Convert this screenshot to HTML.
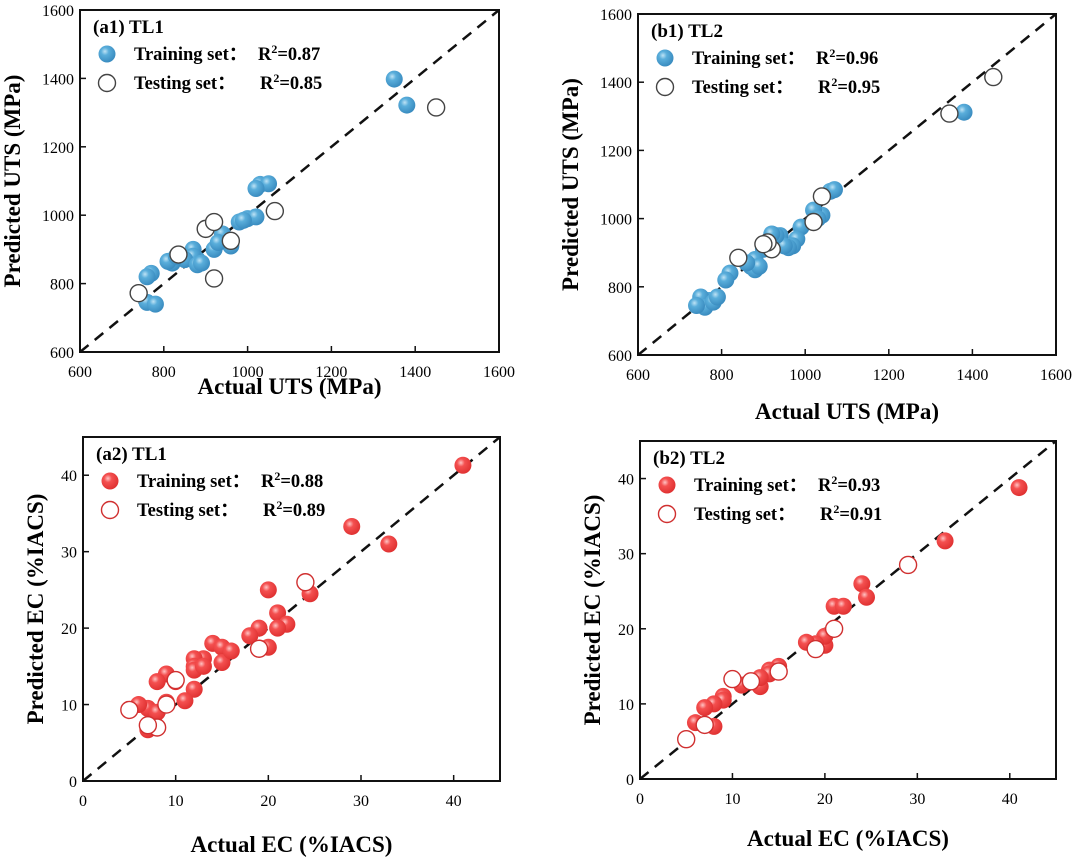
<!DOCTYPE html>
<html><head><meta charset="utf-8"><style>
body{margin:0;background:#fff;}
svg{display:block;font-family:"Liberation Serif",serif;}
</style></head><body>
<svg id="fig" width="1080" height="861" viewBox="0 0 1080 861" xmlns="http://www.w3.org/2000/svg">
<defs>
<radialGradient id="gb" cx="0.38" cy="0.35" r="0.65"><stop offset="0" stop-color="#bfe3f5"/><stop offset="0.35" stop-color="#5aaedb"/><stop offset="1" stop-color="#3a8cc0"/></radialGradient>
<radialGradient id="gr" cx="0.38" cy="0.35" r="0.65"><stop offset="0" stop-color="#ffc4c4"/><stop offset="0.35" stop-color="#f45050"/><stop offset="1" stop-color="#e03232"/></radialGradient>
</defs>
</svg>
<script>
// ---- data ----
const a1TrainX=[1350,1380,1030,1050,1020,1000,1020,980,990,960,940,920,930,870,880,870,850,820,810,830,770,760,760,780,880,890];
const a1TrainY=[1398,1322,1090,1092,1078,990,995,980,985,910,945,900,920,900,870,880,870,860,865,880,830,820,745,740,855,860];
const a1TestX=[1450,1065,900,920,960,920,835,740];
const a1TestY=[1315,1012,960,980,925,815,885,772];
const b1TrainX=[1380,1060,1070,1040,1020,1030,990,980,970,960,940,950,930,920,900,880,870,880,890,860,820,810,770,750,760,740,780,790];
const b1TrainY=[1312,1080,1085,1010,1025,1000,975,940,920,915,950,920,950,955,910,880,860,850,860,870,840,820,760,770,740,745,755,770];
const b1TestX=[1345,1450,1040,1020,920,910,900,840];
const b1TestY=[1308,1415,1065,990,910,930,925,885];
const a2TrainX=[41,29,33,20,24.5,21,22,21,19,18,20,14,15,15,13,12,12,12,13,12,11,9,8,7,6,7,8,9,10,16];
const a2TrainY=[41.3,33.3,31,25,24.5,22,20.5,20,20,19,17.5,18,17.5,15.5,16,16,15,14.5,15,12,10.5,14,13,9.5,10,6.7,9,10.3,13,17];
const a2TestX=[24,19,10,5,8,9,7];
const a2TestY=[26,17.3,13.2,9.3,7,10,7.3];
const b2TrainX=[41,33,24,24.5,21,22,20,20,19,18,15,14,14,13,12,11,9,9,8,8,7,6,13];
const b2TrainY=[38.8,31.7,26,24.2,23,23,17.8,19,18,18.2,15,14.5,14,12.3,13,12.5,11,10.5,10,7,9.5,7.5,13.5];
const b2TestX=[29,21,19,15,12,10,7,5];
const b2TestY=[28.5,20,17.3,14.3,13,13.3,7.2,5.3];
const utsTicks=[600,800,1000,1200,1400,1600];
const ecXTicks=[0,10,20,30,40];
const ecYTicks=[0,10,20,30,40];

const NS="http://www.w3.org/2000/svg";
const svg=document.getElementById('fig');
function mk(tag,attrs,parent){const e=document.createElementNS(NS,tag);for(const k in attrs)e.setAttribute(k,attrs[k]);(parent||svg).appendChild(e);return e;}

function panel(p){
  const g=mk('g',{});
  
  
  const sx=v=>p.L+(v-p.xmin)/(p.xmax-p.xmin)*(p.R-p.L);
  const sy=v=>p.B-(v-p.ymin)/(p.ymax-p.ymin)*(p.B-p.T);
  const lo=Math.max(p.xmin,p.ymin),hi=Math.min(p.xmax,p.ymax);
  const d=mk('line',{x1:sx(lo),y1:sy(lo),x2:sx(hi),y2:sy(hi),stroke:'#111','stroke-width':2.5,'stroke-dasharray':'11,8'},g);
  
  
  const fill=p.color==='b'?'url(#gb)':'url(#gr)';
  const ostroke=p.color==='b'?'#444':'#d03030';
  for(let i=0;i<p.trX.length;i++){
    const c=mk('circle',{cx:sx(p.trX[i]),cy:sy(p.trY[i]),r:8.5,fill:fill},g);
    
    
  }
  for(let i=0;i<p.teX.length;i++){
    const c=mk('circle',{cx:sx(p.teX[i]),cy:sy(p.teY[i]),r:8.5,fill:'#fff',stroke:ostroke,'stroke-width':1.4},g);
    
    
  }
  const f=mk('rect',{x:p.L,y:p.T,width:p.R-p.L,height:p.B-p.T,fill:'none',stroke:'#111','stroke-width':2},g);
  
  
  p.xt.forEach(v=>{
    const x=sx(v);
    mk('line',{x1:x,y1:p.B,x2:x,y2:p.B-6,stroke:'#111','stroke-width':1.5},g);
    const t=mk('text',{x:x,y:p.B+25,'text-anchor':'middle','font-size':16},g);
    t.textContent=v;
    
    
  });
  p.yt.forEach(v=>{
    const y=sy(v);
    mk('line',{x1:p.L,y1:y,x2:p.L+6,y2:y,stroke:'#111','stroke-width':1.5},g);
    const t=mk('text',{x:p.L-6,y:y+6,'text-anchor':'end','font-size':16},g);
    t.textContent=v;
    
    
  });
  const xt=mk('text',{x:(p.L+p.R)/2,y:p.B+42+(p.xTitleOff||0),'text-anchor':'middle','font-size':23,'font-weight':'bold'},g);
  xt.textContent=p.xtitle;
  
  
  const yx=p.L-p.ytOff, yc=(p.T+p.B)/2;
  const yt=mk('text',{x:yx,y:yc,'text-anchor':'middle','font-size':23,'font-weight':'bold',transform:`rotate(-90 ${yx} ${yc})`},g);
  yt.textContent=p.ytitle;
  
  
  const lb=mk('text',{x:p.L+13,y:p.T+23,'font-size':19,'font-weight':'bold'},g);
  lb.textContent=p.label;
  
  
  [[p.r2tr,'Training set：',true],[p.r2te,'Testing set：',false]].forEach((row,k)=>{
    const y=p.T+50+k*29;
    const c=mk('circle',{cx:p.L+27,cy:y-6,r:8.5,fill:row[2]?fill:'#fff',stroke:row[2]?'none':ostroke,'stroke-width':1.4},g);
    
    
    const t=mk('text',{x:p.L+54,y:y,'font-size':18.5,'font-weight':'bold'},g);
    t.textContent=row[1];
    
    
    const r=mk('text',{x:p.L+(row[2]?178:180),y:y,'font-size':18.5,'font-weight':'bold'},g);
    r.innerHTML='R<tspan dy="-7" font-size="12">2</tspan><tspan dy="7">='+row[0]+'</tspan>';
    
    
  });
}

panel({id:'a1',L:80,R:499,T:10,B:352,xmin:600,xmax:1600,ymin:600,ymax:1600,xt:utsTicks,yt:utsTicks,
  trX:a1TrainX,trY:a1TrainY,teX:a1TestX,teY:a1TestY,color:'b',label:'(a1) TL1',r2tr:'0.87',r2te:'0.85',
  xtitle:'Actual UTS (MPa)',ytitle:'Predicted UTS (MPa)',ytOff:60});
panel({id:'b1',L:638,R:1056,T:14,B:355,xmin:600,xmax:1600,ymin:600,ymax:1600,xt:utsTicks,yt:utsTicks,
  trX:b1TrainX,trY:b1TrainY,teX:b1TestX,teY:b1TestY,color:'b',label:'(b1) TL2',r2tr:'0.96',r2te:'0.95',
  xtitle:'Actual UTS (MPa)',ytitle:'Predicted UTS (MPa)',ytOff:60,xTitleOff:22});
panel({id:'a2',L:83,R:500,T:437,B:781,xmin:0,xmax:45,ymin:0,ymax:45,xt:ecXTicks,yt:ecYTicks,
  trX:a2TrainX,trY:a2TrainY,teX:a2TestX,teY:a2TestY,color:'r',label:'(a2) TL1',r2tr:'0.88',r2te:'0.89',
  xtitle:'Actual EC (%IACS)',ytitle:'Predicted EC (%IACS)',ytOff:40,xTitleOff:29});
panel({id:'b2',L:640,R:1056,T:441,B:779,xmin:0,xmax:45,ymin:0,ymax:45,xt:ecXTicks,yt:ecYTicks,
  trX:b2TrainX,trY:b2TrainY,teX:b2TestX,teY:b2TestY,color:'r',label:'(b2) TL2',r2tr:'0.93',r2te:'0.91',
  xtitle:'Actual EC (%IACS)',ytitle:'Predicted EC (%IACS)',ytOff:40,xTitleOff:25});
</script>
</body></html>
